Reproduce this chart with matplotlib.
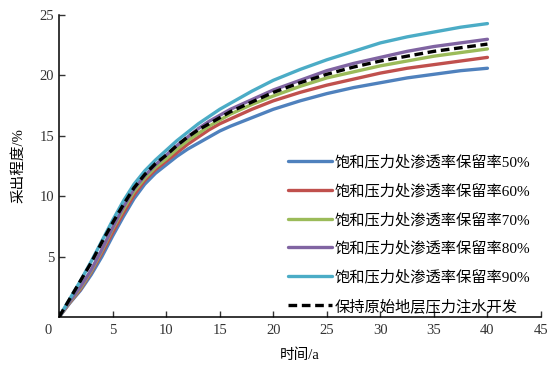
import matplotlib
matplotlib.use("Agg")
import matplotlib.pyplot as plt
import numpy as np

plt.rcParams['font.family'] = ['Liberation Serif', 'Noto Sans CJK SC']

# time, years
t = [0, 1, 2, 3, 4, 5, 6, 7, 8, 9, 10, 11, 12, 13, 14, 15, 16, 18, 20,
     22.5, 25, 27.5, 30, 32.5, 35, 37.5, 40]

# recovery degree, %
r50 = [0, 1.15, 2.2, 3.5, 5.0, 6.7, 8.3, 9.8, 11.0, 11.9, 12.6, 13.3, 13.9, 14.4, 14.9, 15.4, 15.8,
       16.5, 17.2, 17.9, 18.5, 19.0, 19.4, 19.8, 20.1, 20.4, 20.6]
r60 = [0, 1.2, 2.3, 3.7, 5.3, 7.0, 8.6, 10.1, 11.3, 12.2, 12.9, 13.6, 14.3, 14.9, 15.5, 16.0, 16.4,
       17.2, 17.9, 18.6, 19.2, 19.7, 20.2, 20.6, 20.9, 21.2, 21.5]
r70 = [0, 1.25, 2.4, 3.8, 5.5, 7.3, 8.9, 10.4, 11.5, 12.4, 13.1, 13.9, 14.6, 15.2, 15.8, 16.3, 16.8,
       17.6, 18.3, 19.1, 19.8, 20.3, 20.8, 21.2, 21.6, 21.9, 22.2]
r80 = [0, 1.3, 2.5, 3.9, 5.6, 7.4, 9.1, 10.6, 11.7, 12.6, 13.4, 14.2, 14.9, 15.6, 16.2, 16.7, 17.2,
       18.0, 18.8, 19.6, 20.4, 21.0, 21.5, 22.0, 22.4, 22.7, 23.0]
r90 = [0, 1.5, 3.0, 4.6, 6.3, 8.0, 9.6, 11.0, 12.1, 13.0, 13.8, 14.6, 15.3, 16.0, 16.6, 17.2, 17.7,
       18.7, 19.6, 20.5, 21.3, 22.0, 22.7, 23.2, 23.6, 24.0, 24.3]
r_orig = [0, 1.5, 3.0, 4.5, 6.2, 7.8, 9.3, 10.7, 11.8, 12.7, 13.4, 14.2, 14.9, 15.5, 16.0, 16.5, 17.0,
          17.8, 18.6, 19.4, 20.1, 20.7, 21.2, 21.6, 22.0, 22.3, 22.6]

labels = ['饱和压力处渗透率保留率50%', '饱和压力处渗透率保留率60%',
          '饱和压力处渗透率保留率70%', '饱和压力处渗透率保留率80%',
          '饱和压力处渗透率保留率90%', '保持原始地层压力注水开发']
colors = ['#4F81BD', '#C0504D', '#9BBB59', '#8064A2', '#4BACC6']

fig = plt.figure(figsize=(5.47, 3.69), dpi=100)
ax = fig.add_axes([0.108, 0.141, 0.881, 0.818])

for ys, c, lab in zip([r50, r60, r70, r80, r90], colors, labels[:5]):
    ax.plot(t, ys, color=c, lw=2.4, label=lab, solid_joinstyle='round', solid_capstyle='round')
ax.plot(t, r_orig, color='black', lw=2.4, ls=(0, (2.6, 1.4)), label=labels[5])

ax.set_xlim(0, 45)
ax.set_ylim(0, 25)
ax.set_xticks(range(0, 46, 5))
ax.set_xticklabels([''] + [str(v) for v in range(5, 46, 5)])
ax.set_yticks(range(5, 26, 5))
ax.tick_params(direction='in', length=4, width=1, labelsize=10.5, colors='#333333')
ax.tick_params(axis='x', pad=5)
ax.text(-0.022, -0.045, '0', transform=ax.transAxes, ha='center', va='center', fontsize=10.5, color='#333333')
for s in ['top', 'right']:
    ax.spines[s].set_visible(False)
for s in ['left', 'bottom']:
    ax.spines[s].set_linewidth(1.1)

ax.set_xlabel('时间/a', fontsize=10.5, labelpad=8)
ax.set_ylabel('采出程度/%', fontsize=10.5, labelpad=10)

ax.legend(loc='lower right', bbox_to_anchor=(1.0, -0.025), frameon=False, fontsize=11,
          handlelength=2.9, handletextpad=0.15, labelspacing=0.93, borderpad=0.2)

fig.savefig('out.png', dpi=100)
